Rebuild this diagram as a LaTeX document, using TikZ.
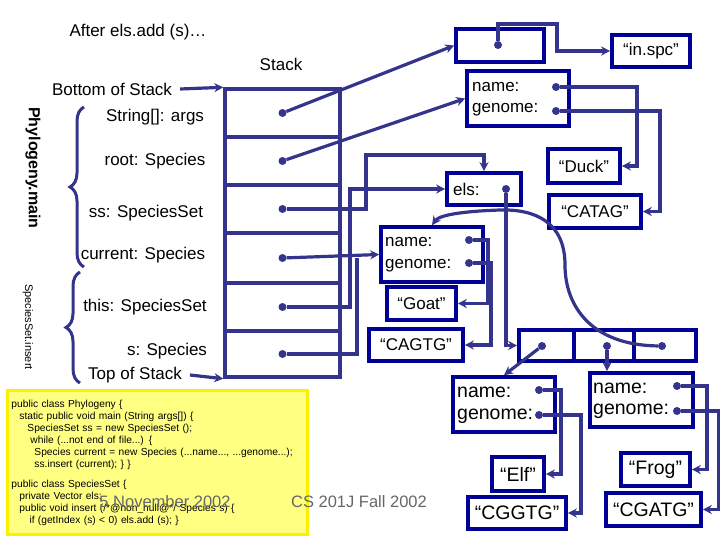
\documentclass[tikz,border=0pt]{standalone}
\usepackage{fontspec}
\setmainfont{Liberation Sans}
\usetikzlibrary{arrows.meta,decorations.pathreplacing}
\definecolor{wire}{RGB}{52,52,140}
\definecolor{frame}{RGB}{0,0,150}
\definecolor{note}{RGB}{255,255,130}
\definecolor{noteline}{RGB}{250,240,0}
\tikzset{
  box/.style={draw=frame, line width=3.6pt, minimum width=#1, inner sep=0pt},
  cell/.style={draw=wire, line width=3.4pt, minimum width=115pt, minimum height=#1, inner sep=0pt},
  arr/.style={draw=wire, line width=3.2pt, -{Stealth[length=9pt,width=9pt]}},
  wireln/.style={draw=wire, line width=3.2pt},
  dot/.style={circle, fill=wire, inner sep=0pt, minimum size=8pt},
  lbl/.style={font=\fontsize{17}{19}\selectfont, inner sep=0pt},
  big/.style={font=\fontsize{19.5}{21}\selectfont, inner sep=0pt},
}
\begin{document}
\begin{tikzpicture}[x=1pt, y=-1pt]
\useasboundingbox (0,0) rectangle (720,540);

% stack frames
\node[cell=48pt] (r1) at (282.5,113) {};
\node[cell=48pt] (r2) at (282.5,161) {};
\node[cell=48pt] (r3) at (282.5,209) {};
\node[cell=50pt] (r4) at (282.5,258) {};
\node[cell=48pt] (r5) at (282.5,307) {};
\node[cell=46pt] (r6) at (282.5,354) {};
\foreach \r in {1,...,6}
  \node[dot] (s\r) at (r\r) {};

\node[lbl] (title) at (138,32) {After els.add (s)…};
\node[lbl] (stk) at (281,64) {Stack};
\node[lbl] (bos) at (112,89) {Bottom of Stack};
\node[lbl] (tos) at (135,375) {Top of Stack};
\draw[arr] (bos.east) ++(8,0) -- (r1.north west);
\draw[arr] (tos.east) ++(8,0) -- (r6.south west);

\node[lbl] at (155,117) {String[]: args};
\node[lbl] at (155,161) {root: Species};
\node[lbl] at (146,213) {ss: SpeciesSet};
\node[lbl] at (143,255) {current: Species};
\node[lbl] at (145,307) {this: SpeciesSet};
\node[lbl] at (167,351) {s: Species};

% braces
\draw[wire, line width=3pt, decorate, decoration={brace, amplitude=14pt}] (84,267) -- (84,107);
\draw[wire, line width=3pt, decorate, decoration={brace, amplitude=14pt}] (80,383) -- (80,272);
\node[font=\bfseries\fontsize{16}{18}\selectfont, rotate=-90] (pm) at (33,168) {Phylogeny.main};
\node[font=\fontsize{11}{13}\selectfont, rotate=-90] (si) at (28,327) {SpeciesSet.insert};

% heap objects
\node[box=88pt, minimum height=33pt] (args) at (500,45.5) {};
\node[dot] (ad) at (498,45) {};
\node[box=78pt, minimum height=32pt, lbl] (inspc) at (651,51) {“in.spc”};

\node[box=102pt, minimum height=55pt] (duckobj) at (518,98.5) {};
\node[lbl, anchor=west] at (472,87) {name:};
\node[lbl, anchor=west] at (472,110) {genome:};
\node[dot] (dn) at (556,87) {};
\node[dot] (dg) at (556,111) {};
\node[box=72pt, minimum height=34pt, lbl] (duck) at (584,166) {“Duck”};
\node[box=92pt, minimum height=33pt, lbl] (catag) at (595,211.5) {“CATAG”};

\node[box=74pt, minimum height=32pt] (els) at (484,189) {};
\node[lbl, anchor=west] at (453,189) {els:};
\node[dot] (ed) at (506,189) {};

\node[box=102pt, minimum height=55pt] (goatobj) at (432,254.5) {};
\node[lbl, anchor=west] at (385,242) {name:};
\node[lbl, anchor=west] at (385,266) {genome:};
\node[dot] (gn) at (469,240) {};
\node[dot] (gg) at (469,263) {};
\node[box=69pt, minimum height=33pt, lbl] (goat) at (421.5,303.5) {“Goat”};
\node[box=94pt, minimum height=32pt, lbl] (cagtg) at (416,345) {“CAGTG”};

\node[box=55pt, minimum height=31pt] (c1) at (546.5,345.5) {};
\node[box=60pt, minimum height=31pt] (c2) at (604,345.5) {};
\node[box=62pt, minimum height=31pt] (c3) at (665,345.5) {};
\node[dot] (v1) at (542,346) {};
\node[dot] (v2) at (607,346) {};
\node[dot] (v3) at (662,346) {};

\node[box=102pt, minimum height=55pt] (elfobj) at (504,404.5) {};
\node[big, anchor=west] at (457,392) {name:};
\node[big, anchor=west] at (457,416) {genome:};
\node[dot] (en) at (539,390) {};
\node[dot] (eg) at (539,415) {};
\node[box=52pt, minimum height=34pt, big] (elf) at (518,474) {“Elf”};
\node[box=98pt, minimum height=32pt, big] (cggtg) at (517,513) {“CGGTG”};

\node[box=103pt, minimum height=54pt] (frogobj) at (641.5,400) {};
\node[big, anchor=west] at (593,388) {name:};
\node[big, anchor=west] at (593,411) {genome:};
\node[dot] (fn) at (677,386) {};
\node[dot] (fg) at (677,411) {};
\node[box=69pt, minimum height=33pt, big] (frog) at (655.5,469.5) {“Frog”};
\node[box=95pt, minimum height=33pt, big] (cgatg) at (653.5,509.5) {“CGATG”};

% references
\draw[arr] (ad) -- (498,24) -- (557,24) |- (inspc.west);
\draw[arr] (s1) -- (args.west);
\draw[arr] (s2) -- (duckobj.west);
\draw[arr] (dn) -- (637,87) |- (duck.east);
\draw[arr] (dg) -- (660,111) |- (catag.east);
\draw[arr] (s3) -- (366,209) -- (366,155) -- (484,155) -- (els.north);
\draw[arr] (s5) -- (350,307) |- (els.west);
\draw[arr] (s4) -- (goatobj.west);
\coordinate (join) at (357,258);
\draw[wireln] (s6) -- (357,354) -- (join);
\draw[arr] (gn) -- (488,240) |- (goat.east);
\draw[arr] (gg) -- (491,263) |- (cagtg.east);
\draw[arr] (ed) |- (c1.west);
\draw[arr] (v1) -- (elfobj.north);
\draw[arr] (v2) -- (v2 |- frogobj.north);
\draw[arr] (v3) .. controls (590,345) and (565,305) .. (565,265)
  .. controls (565,222) and (535,209) .. (500,210)
  .. controls (470,211) and (440,214) .. (goatobj.north);
\draw[arr] (en) -- (561,390) |- (elf.east);
\draw[arr] (eg) -- (581,415) |- (cggtg.east);
\draw[arr] (fn) -- (707,386) |- (frog.east);
\draw[arr] (fg) -- (719,411) |- (cgatg.east);

% code
\node[draw=noteline, fill=note, line width=3pt, anchor=north west, minimum width=300pt, minimum height=144pt,
      text width=292pt, align=left, inner sep=4pt, font=\fontsize{10.2}{12}\selectfont] (code) at (6,389) {%
public class Phylogeny \{\\
\hspace*{8pt}static public void main (String args[]) \{\\
\hspace*{16pt}SpeciesSet ss = new SpeciesSet ();\\
\hspace*{19pt}while (...not end of file...) \{\\
\hspace*{23pt}Species current = new Species (...name..., ...genome...);\\
\hspace*{23pt}ss.insert (current); \} \}\\[8pt]
public class SpeciesSet \{\\
\hspace*{8pt}private Vector els;\\
\hspace*{8pt}public void insert (/*@non\_null@*/ Species s) \{\\
\hspace*{18pt}if (getIndex (s) < 0) els.add (s); \}};
\node[text=black!60, font=\fontsize{16.5}{18}\selectfont] (date) at (165,502) {5 November 2002};
\node[text=black!60, font=\fontsize{16.5}{18}\selectfont] (course) at (359,502) {CS 201J Fall 2002};
\end{tikzpicture}
\end{document}
